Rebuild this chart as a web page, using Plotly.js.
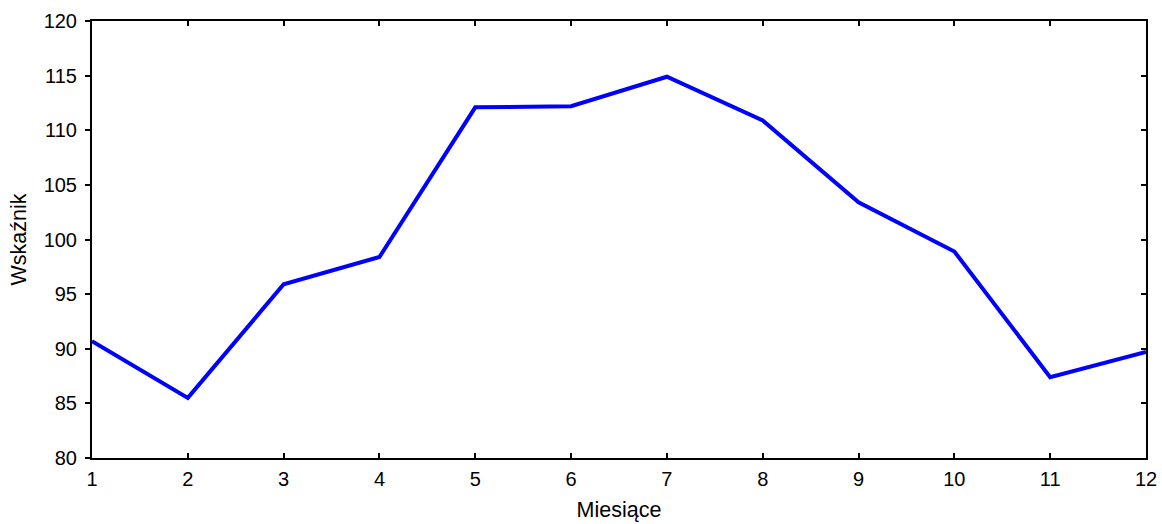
<!DOCTYPE html>
<html>
<head>
<meta charset="utf-8">
<script src="https://cdn.plot.ly/plotly-3.0.1.min.js"></script>
<style>html,body{margin:0;padding:0;background:#fff;}</style>
</head>
<body>
<div id="chart" style="width:1162px;height:524px;"></div>
<script>
const months = [1, 2, 3, 4, 5, 6, 7, 8, 9, 10, 11, 12];
const values = [90.7, 85.5, 95.9, 98.4, 112.1, 112.2, 114.9, 110.9, 103.4, 98.9, 87.4, 89.7];
const xTicks = [1, 2, 3, 4, 5, 6, 7, 8, 9, 10, 11, 12];
const yTicks = [80, 85, 90, 95, 100, 105, 110, 115, 120];
const xTitle = "Miesiące";
const yTitle = "Wskaźnik";

const fam = "Liberation Sans, Arial, sans-serif";
const tickFont = {family: fam, size: 20, color: "#000"};
const titleFont = {family: fam, size: 21.5, color: "#000"};

const traces = [
  {x: months, y: values, type: "scatter", mode: "lines",
   line: {color: "#0000ff", width: 4}, hoverinfo: "x+y", showlegend: false},
  {x: [months[0]], y: [values[0]], type: "scatter", mode: "none", yaxis: "y2",
   hoverinfo: "skip", showlegend: false}
];

const layout = {
  width: 1162, height: 524,
  margin: {l: 92, r: 16, t: 21, b: 66},
  paper_bgcolor: "#fff", plot_bgcolor: "#fff",
  font: tickFont,
  showlegend: false,
  xaxis: {
    range: [1, 12], tickvals: xTicks, ticktext: xTicks.map(String),
    ticks: "inside", ticklen: 5, tickwidth: 2, tickcolor: "#000",
    showline: true, linewidth: 2, linecolor: "#000", mirror: "ticks",
    showgrid: false, zeroline: false,
    tickfont: tickFont, ticklabelstandoff: 2,
    title: {text: xTitle, font: titleFont, standoff: 13}
  },
  yaxis: {
    range: [80, 120], tickvals: yTicks, ticktext: yTicks.map(String),
    ticks: "outside", ticklen: 5, tickwidth: 2, tickcolor: "#000",
    showline: true, linewidth: 2, linecolor: "#000", mirror: true,
    showgrid: false, zeroline: false,
    tickfont: tickFont, ticklabelstandoff: 4,
    title: {text: yTitle, font: titleFont, standoff: 11}
  },
  yaxis2: {
    overlaying: "y", side: "right", range: [80, 120], tickvals: yTicks,
    ticks: "inside", ticklen: 5, tickwidth: 2, tickcolor: "#000",
    showticklabels: false, showline: false, showgrid: false, zeroline: false
  }
};

Plotly.newPlot("chart", traces, layout, {displayModeBar: false, staticPlot: true});
</script>
</body>
</html>
